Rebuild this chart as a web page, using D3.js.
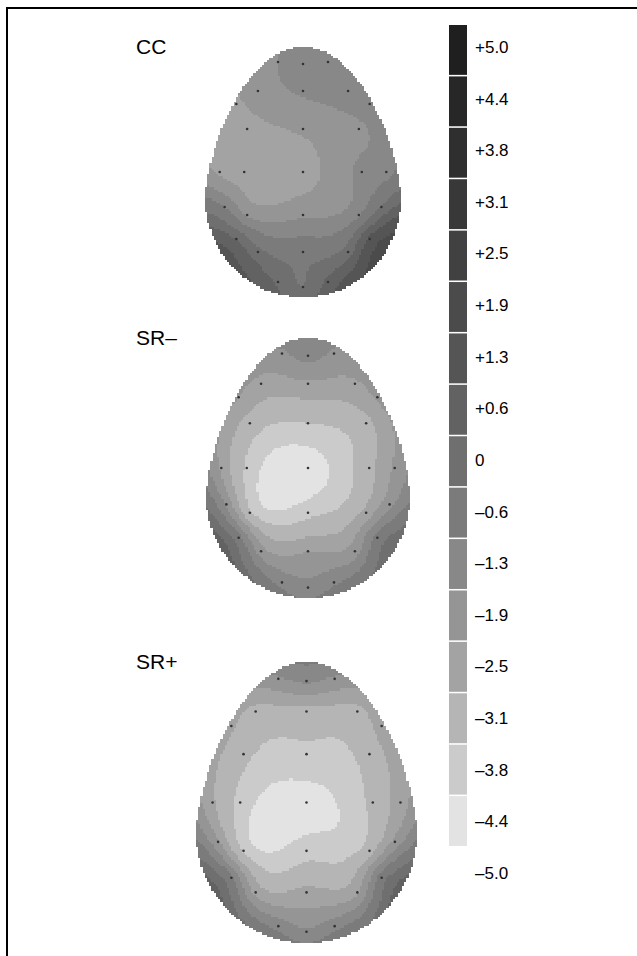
<!DOCTYPE html>
<html>
<head>
<meta charset="utf-8">
<script src="https://cdn.jsdelivr.net/npm/d3@7"></script>
<style>
  body { margin: 0; background: #fff; }
  svg { display: block; }
</style>
</head>
<body>
<div id="chart"></div>
<script>
// Electrode sites, normalized to the head box: u across (-1..1), v top to bottom (0..1)
const electrodes = ["Fp1","Fpz","Fp2","F7","F3","Fz","F4","F8","FC3","FCz","FC4",
  "T3","C3","Cz","C4","T4","TP7","CP3","CPz","CP4","TP8","T5","P3","Pz","P4","T6","O1","Oz","O2"];
const elecU = [-0.255,0,0.255, -0.68,-0.46,0,0.46,0.68, -0.57,0,0.57,
  -0.85,-0.60,0,0.60,0.85, -0.80,-0.57,0,0.57,0.80, -0.68,-0.46,0,0.46,0.68, -0.255,0,0.255];
const elecV = [0.06,0.068,0.06, 0.228,0.176,0.176,0.176,0.228, 0.328,0.328,0.328,
  0.5,0.5,0.5,0.5,0.5, 0.64,0.672,0.672,0.672,0.64, 0.768,0.82,0.82,0.82,0.768, 0.94,0.96,0.94];

// Amplitude at each electrode (µV)
const conditions = ["CC", "SR\u2013", "SR+"];
const ccValues = [-1.9,-1.5,-1.5, -2.6,-2.2,-1.8,-1.6,-1.6, -2.7,-2.4,-2.0,
  -2.6,-2.8,-2.7,-1.7,-1.5, -1.3,-2.0,-2.0,-1.4,-0.5, 0.0,-0.4,-0.8,-0.3,0.8, -0.1,-0.6,0.2];
const srMinusValues = [-2.0,-1.7,-2.0, -2.5,-2.7,-2.6,-2.6,-2.4, -3.4,-3.8,-3.3,
  -2.6,-3.9,-4.7,-3.3,-2.4, -2.0,-3.7,-4.0,-2.9,-2.1, -1.0,-2.2,-2.5,-2.2,-1.0, -1.5,-1.7,-1.4];
const srPlusValues = [-2.0,-1.8,-2.0, -3.0,-3.3,-3.3,-3.3,-2.8, -3.6,-3.9,-3.5,
  -3.0,-4.0,-4.7,-3.6,-2.8, -2.4,-3.9,-4.0,-3.4,-2.3, -1.1,-2.7,-2.9,-2.6,-0.9, -1.5,-1.8,-1.5];

// Colour scale ticks (top to bottom) and the grey of each band (top to bottom)
const tickLabels = ["+5.0","+4.4","+3.8","+3.1","+2.5","+1.9","+1.3","+0.6","0",
  "\u20130.6","\u20131.3","\u20131.9","\u20132.5","\u20133.1","\u20133.8","\u20134.4","\u20135.0"];
const tickValues = [5.0,4.4,3.8,3.1,2.5,1.9,1.3,0.6,0,-0.6,-1.3,-1.9,-2.5,-3.1,-3.8,-4.4,-5.0];
const bandColors = ["#1f1f1f","#272727","#2f2f2f","#383838","#414141","#4b4b4b","#555555","#626262",
  "#6f6f6f","#7b7b7b","#888888","#959595","#a3a3a3","#b5b5b5","#cbcbcb","#e3e3e3"];

const W = 637, H = 956;
const svg = d3.select("#chart").append("svg")
  .attr("width", W).attr("height", H);

// page frame: left and top rules
svg.append("path")
  .attr("d", `M7,${H} V8 H${W}`)
  .attr("fill", "none")
  .attr("stroke", "#000")
  .attr("stroke-width", 2);

// band colour lookup
const color = d3.scaleThreshold()
  .domain(tickValues.slice(1, -1).reverse())
  .range(bandColors.slice().reverse());

// head boxes on the page
const heads = [
  { x0: 205, x1: 401, y0: 47, y1: 297 },
  { x0: 206, x1: 410, y0: 338, y1: 598 },
  { x0: 196, x1: 417, y0: 662, y1: 943 }
];
const headValues = [ccValues, srMinusValues, srPlusValues];

// egg outline: half width at depth v
function halfWidth(v) {
  const vc = 0.6;
  if (v <= vc) {
    const d = (vc - v) / vc;
    return Math.sqrt(Math.max(0, 1 - d * d)) * (1 - 0.15 * d);
  }
  const d = (v - vc) / (1 - vc);
  return Math.sqrt(Math.max(0, 1 - d * d));
}

// thin plate spline through the electrode values
function tpsFit(px, py, f) {
  const n = px.length, m = n + 3;
  const phi = r => r > 1e-9 ? r * r * Math.log(r) : 0;
  const A = [];
  for (let i = 0; i < m; i++) A.push(new Array(m + 1).fill(0));
  for (let i = 0; i < n; i++) {
    for (let j = 0; j < n; j++) A[i][j] = phi(Math.hypot(px[i] - px[j], py[i] - py[j]));
    A[i][i] += 0.002;
    A[i][n] = 1; A[i][n + 1] = px[i]; A[i][n + 2] = py[i];
    A[n][i] = 1; A[n + 1][i] = px[i]; A[n + 2][i] = py[i];
    A[i][m] = f[i];
  }
  for (let c = 0; c < m; c++) {
    let p = c;
    for (let r = c + 1; r < m; r++) if (Math.abs(A[r][c]) > Math.abs(A[p][c])) p = r;
    [A[c], A[p]] = [A[p], A[c]];
    for (let r = 0; r < m; r++) {
      if (r === c) continue;
      const k = A[r][c] / A[c][c];
      for (let k2 = c; k2 <= m; k2++) A[r][k2] -= k * A[c][k2];
    }
  }
  const w = A.map((row, i) => row[m] / row[i]);
  return (x, y) => {
    let s = w[n] + w[n + 1] * x + w[n + 2] * y;
    for (let i = 0; i < n; i++) s += w[i] * phi(Math.hypot(x - px[i], y - py[i]));
    return s;
  };
}

const cell = 2.2;

heads.forEach(function(box, h) {
  const xs = d3.scaleLinear().domain([-1, 1]).range([box.x0, box.x1]);
  const ys = d3.scaleLinear().domain([0, 1]).range([box.y0, box.y1]);
  const asp = (box.y1 - box.y0) / ((box.x1 - box.x0) / 2);
  const field = tpsFit(elecU, elecV.map(v => v * asp), headValues[h]);

  const nx = Math.round((box.x1 - box.x0) / cell);
  const ny = Math.round((box.y1 - box.y0) / cell);
  const runs = [];
  for (let j = 0; j < ny; j++) {
    const v = (j + 0.5) / ny;
    const hw = halfWidth(v);
    let cur = null;
    for (let i = 0; i < nx; i++) {
      const u = -1 + 2 * (i + 0.5) / nx;
      if (Math.abs(u) > hw) { cur = null; continue; }
      const c = color(field(u, v * asp));
      if (cur && cur.fill === c) { cur.i1 = i + 1; }
      else { cur = { j: j, i0: i, i1: i + 1, fill: c }; runs.push(cur); }
    }
  }

  const g = svg.append("g").attr("class", "head");
  g.selectAll("rect")
    .data(runs)
    .enter()
    .append("rect")
    .attr("x", d => xs(-1 + 2 * d.i0 / nx))
    .attr("y", d => ys(d.j / ny))
    .attr("width", d => xs(-1 + 2 * d.i1 / nx) - xs(-1 + 2 * d.i0 / nx) + 0.4)
    .attr("height", ys(1 / ny) - ys(0) + 0.4)
    .attr("fill", d => d.fill)
    .attr("shape-rendering", "crispEdges");

  g.selectAll("circle")
    .data(electrodes)
    .enter()
    .append("circle")
    .attr("cx", (d, i) => xs(elecU[i]))
    .attr("cy", (d, i) => ys(elecV[i]))
    .attr("r", 1.3)
    .attr("fill", "#333");

  svg.append("text")
    .attr("x", 136)
    .attr("y", box.y0)
    .attr("dy", "0.35em")
    .attr("font-family", "'Liberation Sans', Arial, sans-serif")
    .attr("font-size", "21px")
    .attr("fill", "#000")
    .text(conditions[h]);
});

// colour bar
const barY = d3.scaleBand()
  .domain(d3.range(bandColors.length))
  .range([25, 846])
  .paddingInner(0.03);

svg.append("g")
  .selectAll("rect")
  .data(bandColors)
  .enter()
  .append("rect")
  .attr("x", 449)
  .attr("y", (d, i) => barY(i))
  .attr("width", 18)
  .attr("height", barY.bandwidth())
  .attr("fill", d => d);

const labY = d3.scalePoint()
  .domain(tickLabels)
  .range([47, 873]);

svg.append("g")
  .selectAll("text")
  .data(tickLabels)
  .enter()
  .append("text")
  .attr("x", 475)
  .attr("y", d => labY(d))
  .attr("dy", "0.35em")
  .attr("font-family", "'Liberation Sans', Arial, sans-serif")
  .attr("font-size", "17px")
  .attr("fill", "#000")
  .text(d => d);
</script>
</body>
</html>
